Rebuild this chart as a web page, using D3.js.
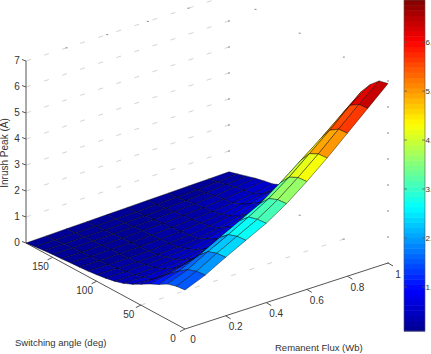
<!DOCTYPE html>
<html>
<head>
<meta charset="utf-8">
<script src="https://cdn.jsdelivr.net/npm/d3@7"></script>
<style>
  html, body { margin: 0; padding: 0; background: #fff; }
  svg { display: block; }
  text { font-family: "Liberation Sans", Arial, sans-serif; font-size: 10px; fill: #333; }
  .axis-line { stroke: #555; fill: none; }
  .grid { stroke: #d4d4d4; fill: none; }
</style>
</head>
<body>
<svg width="431" height="354"></svg>
<script>
var fluxValues = [0, 0.1, 0.2, 0.3, 0.4, 0.5, 0.6, 0.7, 0.8, 0.9, 1];
var angleValues = [0, 10, 20, 30, 40, 50, 60, 70, 80, 90, 100, 110, 120, 130, 140, 150, 160, 170, 180];

// inrush peak, one row per switching angle, one column per flux value
var peak = [
  [1.50, 1.82, 2.25, 2.65, 3.05, 3.55, 4.15, 4.80, 5.50, 6.20, 6.90],
  [1.46, 1.78, 2.22, 2.62, 3.02, 3.52, 4.12, 4.77, 5.47, 6.17, 6.82],
  [1.36, 1.66, 2.10, 2.50, 2.92, 3.38, 3.95, 4.60, 5.25, 5.95, 6.50],
  [1.16, 1.42, 1.78, 2.20, 2.60, 3.00, 3.55, 4.15, 4.75, 5.40, 6.05],
  [1.00, 1.15, 1.38, 1.70, 2.05, 2.45, 2.95, 3.45, 4.05, 4.70, 5.40],
  [0.80, 0.85, 1.00, 1.20, 1.45, 1.80, 2.20, 2.70, 3.30, 3.90, 4.50],
  [0.62, 0.55, 0.72, 0.85, 1.05, 1.30, 1.70, 2.20, 2.75, 3.30, 3.90],
  [0.47, 0.45, 0.51, 0.62, 0.77, 0.96, 1.30, 1.70, 2.20, 2.70, 3.30],
  [0.37, 0.36, 0.39, 0.46, 0.56, 0.72, 0.95, 1.30, 1.70, 2.20, 2.70],
  [0.30, 0.30, 0.31, 0.35, 0.42, 0.55, 0.75, 1.00, 1.35, 1.70, 2.15],
  [0.25, 0.24, 0.24, 0.26, 0.30, 0.38, 0.52, 0.72, 1.00, 1.30, 1.60],
  [0.21, 0.20, 0.20, 0.22, 0.26, 0.32, 0.42, 0.56, 0.76, 0.98, 1.15],
  [0.18, 0.17, 0.18, 0.20, 0.23, 0.28, 0.35, 0.44, 0.57, 0.70, 0.80],
  [0.16, 0.15, 0.16, 0.18, 0.21, 0.25, 0.30, 0.35, 0.43, 0.53, 0.65],
  [0.13, 0.13, 0.14, 0.16, 0.19, 0.22, 0.27, 0.32, 0.39, 0.48, 0.58],
  [0.11, 0.11, 0.12, 0.14, 0.16, 0.19, 0.23, 0.28, 0.34, 0.42, 0.50],
  [0.08, 0.08, 0.09, 0.10, 0.12, 0.15, 0.18, 0.22, 0.27, 0.33, 0.40],
  [0.04, 0.05, 0.06, 0.07, 0.09, 0.11, 0.14, 0.17, 0.20, 0.25, 0.30],
  [0.00, 0.02, 0.04, 0.06, 0.08, 0.10, 0.12, 0.14, 0.16, 0.18, 0.20]
];

var peakTicks = [0, 1, 2, 3, 4, 5, 6, 7];
var angleTicks = [0, 50, 100, 150];
var fluxTicks = [0, 0.2, 0.4, 0.6, 0.8, 1];
var barTicks = [1, 2, 3, 4, 5, 6];
var jetStops = ["#00008f", "#0000ff", "#00ffff", "#ffff00", "#ff0000", "#800000"];
var jetDomain = [0, 0.125, 0.375, 0.625, 0.875, 1];

var svg = d3.select("svg"),
    origin = {x: 185, y: 329};

// oblique view, one pair of scales per data axis
var fluxX = d3.scaleLinear().domain([0, 1]).range([0, 203]),
    fluxY = d3.scaleLinear().domain([0, 1]).range([0, -66]),
    angleX = d3.scaleLinear().domain([0, 180]).range([0, -159]),
    angleY = d3.scaleLinear().domain([0, 180]).range([0, -86]),
    peakY = d3.scaleLinear().domain([0, 7]).range([0, -182]);

function project(f, a, z) {
  return [origin.x + fluxX(f) + angleX(a), origin.y + fluxY(f) + angleY(a) + peakY(z)];
}

var barRange = [0.1, 6.86],
    barY = d3.scaleLinear().domain(barRange).range([331, 0]);

var jet = d3.scaleLinear().domain(jetDomain).range(jetStops).interpolate(d3.interpolateRgb);
var levels = d3.range(64).map(function(i) { return jet((i + 0.5) / 64); });
var colorOf = d3.scaleQuantize().domain(barRange).range(levels);

var line = d3.line();

// walls and floor
var grid = svg.append("g");
peakTicks.slice(1).forEach(function(z) {
  grid.append("path").attr("class", "grid")
    .attr("stroke-dasharray", "5 14")
    .attr("d", line([project(0, 180, z), project(1, 180, z)]));
});
grid.append("path").attr("class", "grid")
  .attr("stroke-dasharray", "5 14")
  .attr("d", line([project(0, 50, 0), project(1, 50, 0)]));

// crossing dots that survive from the dotted grid
var dots = [];
fluxTicks.slice(1, 5).forEach(function(f) { dots.push([f, 180, 7]); });
[50, 100, 150].forEach(function(a) { dots.push([1, a, 7]); dots.push([1, a, 0]); });
peakTicks.forEach(function(z) { dots.push([1, 0, z]); dots.push([1, 180, z]); });
grid.selectAll("rect").data(dots).enter().append("rect")
  .attr("x", function(d) { return project(d[0], d[1], d[2])[0] - 1; })
  .attr("y", function(d) { return project(d[0], d[1], d[2])[1] - 0.5; })
  .attr("width", 2)
  .attr("height", 1)
  .attr("fill", "#888");

// axes
var axes = svg.append("g");
axes.append("path").attr("class", "axis-line")
  .attr("d", line([project(0, 180, 7), project(0, 180, 0), project(0, 0, 0), project(1, 0, 0)]));

peakTicks.forEach(function(z) {
  var p = project(0, 180, z);
  axes.append("path").attr("class", "axis-line").attr("d", line([p, [p[0] - 4, p[1] - 1.5]]));
  axes.append("text").attr("x", p[0] - 9).attr("y", p[1] - 1).attr("dy", "0.35em")
    .attr("text-anchor", "middle").text(z);
});
angleTicks.forEach(function(a) {
  var p = project(0, a, 0);
  axes.append("path").attr("class", "axis-line").attr("d", line([p, [p[0] - 5, p[1] + 2.5]]));
  axes.append("text").attr("x", p[0] - 12).attr("y", p[1] + 9).attr("dy", "0.35em")
    .attr("text-anchor", "middle").text(a);
});
fluxTicks.forEach(function(f) {
  var p = project(f, 0, 0);
  if (f > 0) axes.append("path").attr("class", "axis-line").attr("d", line([p, [p[0] + 5, p[1] + 3]]));
  axes.append("text").attr("x", p[0] + (f > 0 ? 10 : 8)).attr("y", p[1] + (f > 0 ? 11 : 10)).attr("dy", "0.35em")
    .attr("text-anchor", "middle").text(f);
});

// surface, far cells first
var cells = [];
for (var i = angleValues.length - 2; i >= 0; i--) {
  for (var j = fluxValues.length - 2; j >= 0; j--) {
    cells.push({i: i, j: j});
  }
}
svg.append("g").selectAll("path").data(cells).enter().append("path")
  .attr("d", function(c) {
    var i = c.i, j = c.j;
    return line([
      project(fluxValues[j], angleValues[i], peak[i][j]),
      project(fluxValues[j + 1], angleValues[i], peak[i][j + 1]),
      project(fluxValues[j + 1], angleValues[i + 1], peak[i + 1][j + 1]),
      project(fluxValues[j], angleValues[i + 1], peak[i + 1][j])
    ]) + "Z";
  })
  .attr("fill", function(c) {
    var low = d3.mean([peak[c.i][c.j], peak[c.i + 1][c.j]]),
        high = d3.mean([peak[c.i][c.j + 1], peak[c.i + 1][c.j + 1]]);
    return colorOf(low + (high - low) * 0.25);
  })
  .attr("stroke", "#000")
  .attr("stroke-opacity", 0.6)
  .attr("stroke-width", 0.7)
  .attr("stroke-linejoin", "round");

// colorbar
var bar = svg.append("g");
var barScale = d3.scaleBand().domain(d3.range(64)).range([331, 0]);
bar.selectAll("rect").data(levels).enter().append("rect")
  .attr("x", 404)
  .attr("y", function(d, i) { return barScale(i); })
  .attr("width", 21)
  .attr("height", barScale.bandwidth() + 0.5)
  .attr("fill", function(d) { return d; });
bar.append("rect").attr("x", 404).attr("y", 0).attr("width", 21).attr("height", 331)
  .attr("fill", "none").attr("stroke", "#555").attr("stroke-width", 0.6);

// labels sit in the narrow strip right of the bar
var barAxis = svg.append("g").attr("transform", "translate(425.5,0)")
  .call(d3.axisRight(barY).tickValues(barTicks).tickSize(0).tickPadding(0));
barAxis.select(".domain").remove();
barAxis.selectAll("text").attr("x", 0).style("font-size", "8px").style("font-family", "Liberation Sans").attr("fill", "#333");
barTicks.forEach(function(t) {
  svg.append("path").attr("class", "axis-line").attr("stroke-width", 0.7).attr("d", line([[404, barY(t)], [407, barY(t)]]));
  svg.append("path").attr("class", "axis-line").attr("stroke-width", 0.7).attr("d", line([[422, barY(t)], [425, barY(t)]]));
});

// titles
svg.append("text").attr("transform", "translate(8,153) rotate(-90)").attr("text-anchor", "middle").text("Inrush Peak (A)");
svg.append("text").attr("x", 15).attr("y", 346).style("font-size", "9.5px").text("Switching angle (deg)");
svg.append("text").attr("x", 275).attr("y", 351).style("font-size", "9.5px").text("Remanent Flux (Wb)");
</script>
</body>
</html>
